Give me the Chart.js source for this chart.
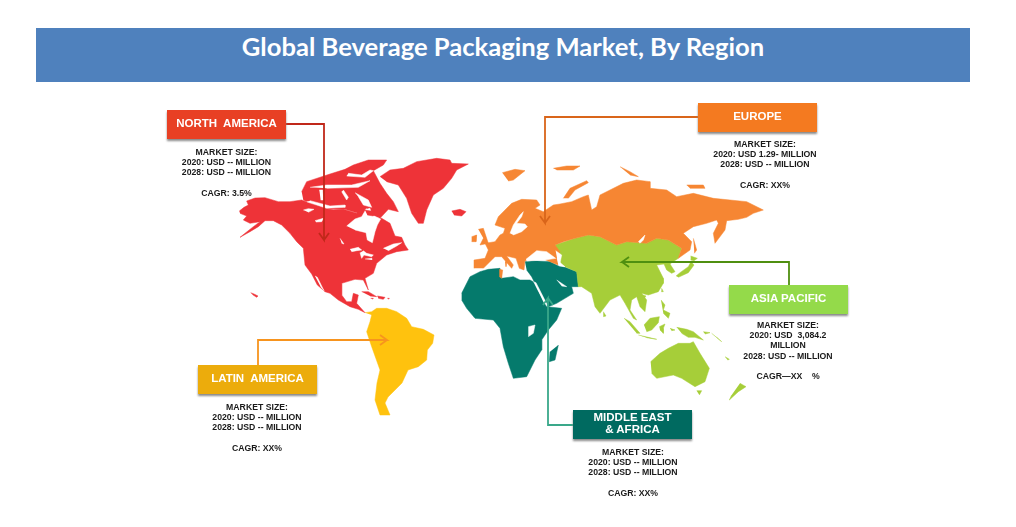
<!DOCTYPE html>
<html>
<head>
<meta charset="utf-8">
<title>Global Beverage Packaging Market, By Region</title>
<script src="https://cdn.jsdelivr.net/npm/chart.js@4/dist/chart.umd.min.js"></script>
<style>
  html, body { margin: 0; padding: 0; background: #fff; }
  #wrap { position: relative; width: 1016px; height: 527px; overflow: hidden; font-family: "Liberation Sans", Arial, sans-serif; }
  #map { position: absolute; left: 0; top: 0; }
  #banner { position: absolute; left: 36px; top: 28px; width: 934px; height: 54px; background: #4f81bd; color: #fff;
    font: bold 25.6px Lato, sans-serif; text-align: center; line-height: 37px; }
  .box { position: absolute; width: 119px; height: 27px; padding-bottom: 2px; color: #fff; font-weight: bold; font-size: 11.5px; line-height: 11.5px;
    display: flex; align-items: center; justify-content: center; text-align: center; box-shadow: 0 2px 2px #8a8a8a; white-space: pre; }
  .info { position: absolute; width: 160px; margin-left: -80px; text-align: center; color: #1a1a1a; font-weight: bold; font-size: 8.7px;
    line-height: 10.2px; white-space: pre; }
</style>
</head>
<body>
<div id="wrap">
  <canvas id="map" width="1016" height="527"></canvas>
  <div id="banner"></div>
</div>
<script>
// texts
const chartTitle = 'Global Beverage Packaging Market, By Region';
const regionNames = ['NORTH  AMERICA', 'EUROPE', 'ASIA PACIFIC', 'MIDDLE EAST\n& AFRICA', 'LATIN  AMERICA'];
const regionInfo = [
  ['MARKET SIZE:', '2020: USD -- MILLION', '2028: USD -- MILLION', '', 'CAGR: 3.5%'],
  ['MARKET SIZE:', '2020: USD 1.29- MILLION', '2028: USD -- MILLION', '', 'CAGR: XX%'],
  ['MARKET SIZE:', '2020: USD  3,084.2', 'MILLION', '2028: USD -- MILLION', '', 'CAGR\u2014XX    %'],
  ['MARKET SIZE:', '2020: USD -- MILLION', '2028: USD -- MILLION', '', 'CAGR: XX%'],
  ['MARKET SIZE:', '2020: USD -- MILLION', '2028: USD -- MILLION', '', 'CAGR: XX%'],
];
const boxColors = ['#e84024', '#f47a20', '#94da4a', '#006a60', '#ecac0c'];
const boxPos = [[167, 110], [698, 103], [729, 285], [573, 410], [198, 365]];
const infoPos = [[226.5, 147], [765, 139], [788, 320], [633, 447], [257, 402]];

// outlines read off the picture, each set measured in its own 3x crop
// crop at (230,130)
const northAmerica = [[28,243],[42,232],[55,225],[50,213],[75,204],[105,203],[145,215],[180,215],[215,210],[245,222],[280,235],[310,240],[340,238],[380,250],[395,235],[408,240],[420,262],[455,265],[480,280],[495,318],[515,322],[525,345],[535,360],[500,365],[470,375],[440,400],[430,430],[405,445],[415,480],[400,450],[375,448],[335,460],[335,495],[350,515],[365,515],[370,490],[385,495],[380,520],[405,548],[385,538],[360,530],[325,510],[300,490],[285,485],[262,465],[245,432],[225,405],[220,355],[200,335],[180,310],[155,285],[130,272],[105,272],[85,290],[60,305],[30,322],[70,290],[90,275],[60,280],[40,270],[50,258],[30,250]];
const greenland = [[450,140],[480,120],[520,115],[560,95],[620,85],[660,90],[665,100],[715,102],[680,120],[665,145],[640,175],[610,195],[590,240],[580,280],[565,280],[545,250],[530,205],[505,165],[470,155]];
const iceland = [[665,243],[690,238],[708,245],[695,258],[672,255]];
const hawaii = [[62,488],[72,492],[84,498],[80,502],[68,494]];
const southAmerica = [[405,548],[425,545],[440,535],[470,535],[500,545],[530,565],[545,590],[580,598],[612,615],[608,640],[592,660],[590,690],[565,710],[534,720],[516,759],[474,801],[465,819],[480,855],[450,855],[435,810],[441,759],[450,720],[425,650],[410,605],[420,575],[425,555]];
const gulfOfCalifornia = [[255,438],[262,442],[282,482],[272,470]];

// crop at (290,150)
const arcticIslands = [[35,125],[50,95],[120,72],[165,58],[190,45],[235,30],[290,30],[280,45],[250,62],[270,100],[290,130],[310,155],[325,185],[295,178],[270,205],[245,195],[230,175],[205,190],[165,178],[100,178],[40,150]];
const parryChannel = [[60,112],[110,105],[185,105],[240,92],[205,112],[110,115]];
const bankChannel = [[88,120],[98,120],[100,150],[92,150]];
const coronation = [[60,152],[120,168],[165,165],[165,172],[110,175],[50,155]];
const peelSound = [[160,120],[175,142],[170,150],[155,125]];
const foxeBasin = [[195,128],[235,150],[245,172],[220,165],[205,140]];
const jonesSound = [[170,78],[225,82],[250,62],[240,60],[215,75],[175,70]];
const hudsonBay = [[170,228],[195,207],[215,200],[228,178],[240,175],[245,195],[272,207],[262,225],[255,245],[247,278],[232,270],[228,248],[195,240]];
const southampton = [[225,180],[255,185],[250,198],[232,195]];
const greatSlave = [[40,180],[55,176],[72,178],[55,187]];
const greatBear = [[75,212],[100,205],[95,215],[78,216]];
const winnipeg = [[150,265],[162,282],[155,280]];

// crop at (330,240)
const cuba = [[95,155],[115,155],[140,170],[120,168]];
const hispaniola = [[142,168],[165,172],[160,178],[145,175]];
const jamaica = [[122,175],[130,175],[128,178]];
const puertoRico = [[172,175],[178,175],[176,178]];
const lakeSuperior = [[60,28],[85,22],[95,30],[80,32],[65,35]];
const lakeHuron = [[90,38],[95,55],[102,45],[125,50],[130,45],[110,40],[100,32]];
const lakeErie = [[105,57],[125,55],[125,60]];
const stLawrence = [[160,25],[190,12],[215,8],[200,18],[175,32]];

// crop at (460,130)
const eurasiaNorth = [[42,415],[42,390],[75,385],[85,360],[75,340],[105,335],[120,315],[130,310],[135,295],[105,285],[115,260],[155,220],[185,208],[230,210],[240,225],[225,235],[250,245],[280,225],[300,222],[335,215],[370,200],[385,195],[395,240],[410,230],[420,195],[450,180],[490,160],[530,150],[570,155],[570,175],[620,180],[650,200],[700,190],[760,205],[810,210],[860,215],[910,240],[880,250],[860,262],[835,268],[800,272],[795,300],[765,340],[760,310],[775,280],[770,270],[740,280],[700,290],[670,310],[695,335],[690,360],[655,385],[665,355],[625,330],[590,325],[560,340],[500,335],[470,345],[420,320],[385,315],[345,325],[310,335],[285,345],[300,365],[290,385],[295,405],[270,395],[245,385],[220,390],[195,392],[192,420],[178,415],[168,385],[140,378],[160,405],[155,415],[125,380],[105,380],[95,390],[70,415]];
const uk = [[55,298],[70,295],[85,340],[60,345],[70,325]];
const ireland = [[35,320],[50,315],[48,335],[35,335]];
const sicily = [[135,395],[140,395],[138,410]];
const svalbard = [[127,128],[165,118],[195,122],[160,150],[145,153]];
const franzJosef = [[280,115],[320,108],[360,108],[340,120],[290,120]];
const novayaZemlya = [[310,205],[330,175],[380,152],[385,158],[345,180],[325,205]];
const siberianIsles = [[480,110],[510,125],[535,140],[510,135]];
const wrangel = [[680,165],[730,165],[735,175],[690,175]];
const sakhalin = [[700,325],[710,360],[703,370]];
const tunisia = [[118,418],[128,420],[125,445],[118,440]];

const asiaMain = [[285,345],[345,325],[385,315],[420,320],[470,345],[500,335],[560,340],[590,325],[625,330],[665,355],[655,385],[635,398],[630,402],[645,425],[635,430],[620,420],[612,402],[590,405],[610,445],[610,460],[595,485],[565,495],[545,490],[560,510],[555,545],[540,530],[530,500],[515,510],[510,540],[530,570],[520,565],[495,520],[480,495],[450,510],[420,550],[405,530],[395,490],[365,470],[355,470],[350,425],[315,410],[300,395],[290,370]];
const sriLanka = [[430,545],[438,558],[430,560]];
const australia = [[572,695],[600,670],[625,655],[655,640],[690,640],[700,635],[720,670],[748,715],[735,755],[705,770],[665,745],[640,735],[590,745],[575,730]];
const tasmania = [[710,782],[725,782],[718,795]];
const newZealand = [[840,760],[858,770],[835,785],[808,810],[815,795]];
const vanuatu = [[795,680],[808,688],[803,690]];

const africa = [[5,490],[30,440],[60,425],[85,418],[120,415],[125,445],[160,440],[180,450],[210,450],[225,458],[250,515],[260,530],[305,535],[290,570],[265,600],[245,630],[245,660],[225,690],[200,740],[160,745],[145,700],[130,650],[120,595],[100,570],[45,565],[20,535],[5,510]];
const middleEast = [[195,395],[220,392],[270,395],[300,410],[315,412],[350,425],[355,470],[335,470],[340,490],[290,520],[265,530],[225,460],[215,440],[200,420]];
const madagascar = [[295,645],[285,690],[268,695],[270,665]];
const blackSea = [[198,388],[230,362],[260,365],[287,385],[255,390],[200,393]];
const caspian = [[287,362],[305,375],[300,400],[315,410],[295,405]];
const baikal = [[535,335],[555,315],[550,330],[540,340]];
const redSea = [[220,455],[228,458],[262,525],[252,518]];
const persianGulf = [[290,450],[320,470],[305,468]];
const lakeVictoria = [[205,590],[225,585],[220,610],[205,620]];

// crop at (470,200)
const baltic = [[120,100],[130,75],[150,45],[160,35],[155,50],[140,70],[165,72],[172,80],[155,95],[130,105]];

// crop at (620,250)
const japan = [[168,78],[180,68],[205,50],[213,35],[222,45],[205,68],[175,82]];
const hokkaido = [[212,18],[232,25],[222,32],[212,30]];
const taiwan = [[125,115],[130,125],[124,125]];
const hainan = [[68,135],[78,138],[70,148]];
const sumatra = [[12,205],[30,215],[60,250],[50,250]];
const borneo = [[72,225],[90,205],[118,200],[115,218],[95,240],[80,245]];
const java = [[55,255],[110,268],[80,263]];
const sulawesi = [[118,230],[135,222],[130,235],[130,250],[120,240]];
const philippines = [[123,150],[135,165],[130,180],[150,190],[145,205],[130,190]];
const newGuinea = [[170,232],[200,238],[220,245],[250,270],[225,262],[205,262],[185,250]];
const newBritain = [[250,245],[270,248],[255,252]];
const moluccas = [[150,235],[165,240],[155,242]];
const solomon = [[275,250],[305,275],[290,262]];

// connector lines with arrow heads, page coordinates
const northAmericaArrow = [[286,124],[324,124],[324,240],[319,233],[324,240],[329,233]];
const europeArrow = [[698,117],[545,117],[545,223],[540,216],[545,223],[550,216]];
const asiaArrow = [[789,285],[789,262],[622,262],[629,257],[622,262],[629,267]];
const mideastArrow = [[573,425],[548,425],[548,298],[543,305],[548,298],[553,305]];
const latinArrow = [[258,365],[258,340],[387,340],[380,335],[387,340],[380,345]];

const red = '#ee3338', yellow = '#ffc20e', orange = '#f68633', green = '#a6ce39', teal = '#057a6c', water = '#ffffff';
const landGroups = [
  { color: red, origin: [230, 130], shapes: [northAmerica, greenland, iceland, hawaii] },
  { color: red, origin: [290, 150], shapes: [arcticIslands] },
  { color: red, origin: [330, 240], shapes: [cuba, hispaniola, jamaica, puertoRico] },
  { color: yellow, origin: [230, 130], shapes: [southAmerica] },
  { color: orange, origin: [460, 130], shapes: [eurasiaNorth, uk, ireland, sicily, svalbard, franzJosef, novayaZemlya, siberianIsles, wrangel, sakhalin, tunisia] },
  { color: green, origin: [460, 130], shapes: [asiaMain, sriLanka, australia, tasmania, newZealand, vanuatu] },
  { color: green, origin: [620, 250], shapes: [japan, hokkaido, taiwan, hainan, sumatra, borneo, java, sulawesi, philippines, newGuinea, newBritain, moluccas, solomon] },
  { color: teal, origin: [460, 130], shapes: [africa, middleEast, madagascar] },
  { color: water, origin: [230, 130], shapes: [gulfOfCalifornia], order: 2 },
  { color: water, origin: [290, 150], shapes: [parryChannel, bankChannel, coronation, peelSound, foxeBasin, jonesSound, hudsonBay, greatSlave, greatBear, winnipeg], order: 2 },
  { color: red, origin: [290, 150], shapes: [southampton], order: 1.5 },
  { color: water, origin: [330, 240], shapes: [lakeSuperior, lakeHuron, lakeErie, stLawrence], order: 2 },
  { color: water, origin: [460, 130], shapes: [blackSea, caspian, baikal, redSea, persianGulf, lakeVictoria], order: 2 },
  { color: water, origin: [470, 200], shapes: [baltic], order: 2 },
];
const arrows = [
  [northAmericaArrow, '#c0281a'],
  [europeArrow, '#d9651a'],
  [asiaArrow, '#4f8f10'],
  [mideastArrow, '#3aa88a'],
  [latinArrow, '#f7941e'],
];

const datasets = [];
landGroups.forEach(group => {
  group.shapes.forEach(shape => {
    datasets.push({
      data: shape.map(p => ({ x: group.origin[0] + p[0] / 3, y: group.origin[1] + p[1] / 3 })),
      showLine: true,
      fill: 'shape',
      backgroundColor: group.color,
      borderColor: group.color,
      borderWidth: 0.5,
      pointRadius: 0,
      order: group.order || 3,
    });
  });
});
arrows.forEach(a => {
  datasets.push({
    data: a[0].map(p => ({ x: p[0], y: p[1] })),
    showLine: true,
    fill: false,
    borderColor: a[1],
    borderWidth: 1.8,
    pointRadius: 0,
    order: 1,
  });
});

new Chart(document.getElementById('map'), {
  type: 'scatter',
  data: { datasets },
  options: {
    responsive: false,
    animation: false,
    events: [],
    layout: { padding: 0 },
    plugins: { legend: { display: false }, tooltip: { enabled: false } },
    scales: {
      x: { type: 'linear', display: false, min: 0, max: 1016 },
      y: { type: 'linear', display: false, min: 0, max: 527, reverse: true },
    },
  },
});

// title, region boxes and text
document.getElementById('banner').textContent = chartTitle;
const wrap = document.getElementById('wrap');
regionNames.forEach((name, i) => {
  const box = document.createElement('div');
  box.className = 'box';
  box.style.left = boxPos[i][0] + 'px';
  box.style.top = boxPos[i][1] + 'px';
  box.style.background = boxColors[i];
  box.textContent = name;
  wrap.appendChild(box);

  const info = document.createElement('div');
  info.className = 'info';
  info.style.left = infoPos[i][0] + 'px';
  info.style.top = infoPos[i][1] + 'px';
  info.textContent = regionInfo[i].join('\n');
  wrap.appendChild(info);
});
</script>
</body>
</html>
